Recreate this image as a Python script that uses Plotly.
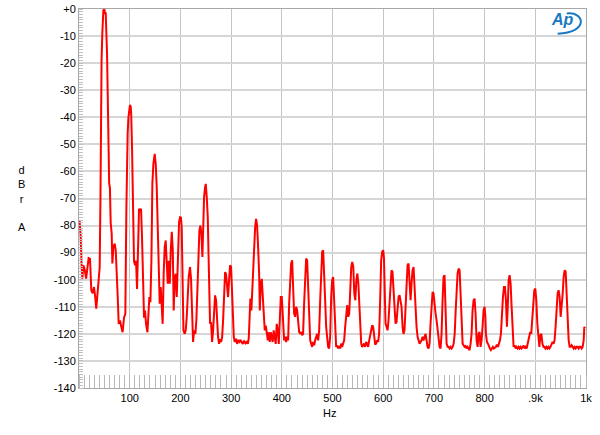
import plotly.graph_objects as go

freq_hz = [
    1, 3.3, 5, 6.6, 8.5, 11, 14, 16.4, 19, 21.7, 24.3, 27, 29.6, 32, 34, 36, 38, 40.8, 42.3, 43,
    44.5, 46, 48, 50, 51.3, 52.6, 54, 55.3, 56.6, 57.9, 59.5, 61, 62.5, 64.5, 65.8, 67.8, 70.4, 72.4, 74.3, 76.3,
    78.3, 81, 83.5, 86, 88.8, 91.4, 93.4, 94.8, 96, 97.5, 99, 100.5, 102, 103, 104.6, 105.5, 106.6, 108.5, 110.5, 112.5,
    114.5, 116.4, 118.4, 120.4, 122.4, 124.3, 126.3, 128.3, 130.2, 132.2, 135, 137, 138.8, 140.8, 142.8, 144.7, 146.7, 149.3, 151.3, 153.3,
    155.3, 157.2, 159.2, 161.2, 163, 165, 167, 169, 171, 173, 175, 177, 179, 181, 183, 185, 186.8, 188.8, 190.8, 192.8,
    195.4, 197.4, 199.3, 201, 202.6, 204, 206, 208.6, 210.5, 212.5, 214.5, 216.4, 219, 221, 223, 225, 227, 229.6, 231.5, 233.5,
    235.5, 237.5, 239.5, 241.4, 243.4, 245.4, 246.7, 248.7, 250, 252, 254, 255.3, 256.6, 258.5, 260.5, 262.5, 264.5, 266.4, 268.4, 270.4,
    272.4, 274.3, 276.3, 278.3, 280.3, 282.3, 284.2, 286.2, 288.2, 290, 292, 294, 296, 298, 300, 301.3, 303.3, 305.3, 307.2, 309.5,
    311.8, 314, 316.4, 318.5, 320.5, 323, 325.5, 328.3, 331, 333, 334.8, 336, 338, 340, 341.4, 343.4, 345.4, 347.4, 349.3, 351.3,
    353.3, 355.3, 356.6, 358.6, 360.5, 362.5, 364.5, 366.4, 368.4, 370.4, 372.4, 374.3, 376.3, 378.3, 380.2, 382, 384, 386, 388, 390,
    392, 394, 396, 398, 400, 402.3, 404.6, 406.6, 408.6, 410.5, 412.5, 414.5, 416.4, 418.4, 420.4, 422.4, 424.3, 426.3, 428.3, 430.3,
    432.2, 434.2, 436.2, 438.1, 440, 442, 444, 446, 448, 450, 452, 454, 456, 457.9, 459.9, 461.9, 463.8, 465.8, 467.8, 469.7,
    471.7, 473.7, 475.7, 477.6, 479.6, 481.6, 483.6, 485.5, 487.5, 489.5, 491.4, 493.4, 495.4, 497.4, 499.3, 501.3, 503.3, 505.3, 507.2, 509.2,
    511.2, 513.1, 515, 517, 519, 521, 523, 525, 527, 529, 531, 533, 535, 537, 539, 541, 543, 545, 547, 549,
    551, 553, 554.6, 556.6, 558.5, 560.5, 562.5, 564.4, 566.4, 568.4, 570.4, 572.4, 574.3, 576.3, 578.3, 580.2, 582.2, 584.2, 586.2, 588.1,
    590, 592, 594, 596, 598, 600, 601.5, 602.6, 604.6, 606.6, 608.6, 610.5, 612.5, 614.5, 616.4, 618.4, 620.4, 622.4, 624.3, 626.3,
    628.3, 630.3, 632.2, 634.2, 636.2, 638.2, 640, 642, 644, 646, 648, 650, 652, 654, 655.9, 657.9, 659.9, 661.8, 663.8, 665.8,
    667.8, 669.7, 671.7, 673.7, 675.7, 677.6, 679.6, 681.6, 683.6, 685.5, 687.5, 689.5, 691.4, 693.4, 695.4, 697.4, 699.3, 701.3, 703.3, 705.3,
    707.2, 709.2, 711.2, 713.2, 715.1, 717.1, 719, 721, 723, 725, 727, 729, 731, 733, 735, 737, 739, 741, 743, 744.7,
    746.7, 748.7, 750.7, 752.6, 754.6, 756.6, 758.5, 760.5, 762.5, 764.4, 766.4, 768.4, 770.4, 772.4, 774.3, 776.3, 778.3, 780.2, 782.2, 784.2,
    786.2, 788.2, 790.1, 792, 794, 796, 798, 800, 801.5, 802.6, 804.6, 806.6, 808.6, 810.5, 812.5, 814.5, 816.4, 818.4, 820.4, 822.4,
    824.3, 826.3, 828.3, 830.3, 832.2, 834.2, 836.2, 838.2, 840.1, 842.1, 844, 845.4, 847.4, 849.3, 851.3, 853.3, 855.3, 857.2, 859.2, 861.2,
    863.1, 865.1, 867.1, 869, 871, 873, 875, 877, 879, 881, 882.9, 886, 888, 890, 892, 894, 896, 898, 900, 902,
    904, 906, 908, 910, 912, 914, 916, 918, 920, 922, 924, 926, 928, 930, 932, 934, 936, 938, 940, 942,
    944, 946, 948, 950, 952, 954, 955.9, 957.9, 959.9, 961.8, 963.8, 965.8, 967.8, 969.7, 971.7, 973.7, 975.7, 977.6, 979.6, 981.6,
    983.6, 985.5, 987.5, 989.5, 991.4, 993.4, 995.4, 996.7, 998,
]

level_dbr = [
    -78, -84, -94, -99.6, -94.7, -96, -99.6, -94.7, -92, -92.3, -104, -105, -102.7, -106.4, -110.7, -106.4, -101, -95.3, -70, -36,
    -19, -9, -0.5, 0, -1.8, -1.2, -6.5, -16.4, -31.2, -53.4, -64.5, -66, -79, -83, -94, -88, -86.7, -89, -95, -106,
    -116.3, -115, -117.5, -119.4, -114, -112.6, -74.4, -55, -45.8, -40, -37, -35.5, -36, -39, -51, -60, -67, -93, -94.7, -93,
    -103.4, -84.3, -73.8, -74.4, -73.8, -84.3, -105.2, -114, -111.4, -116.3, -119.4, -111.4, -106.4, -108.3, -93, -64.6, -57.2, -53.5, -57.2, -65.8,
    -83, -99, -108.9, -102.7, -108.9, -116.3, -97.8, -88, -85.5, -93, -101.5, -93, -101.5, -89, -82.3, -89, -111.4, -99, -97.8, -106.4,
    -89, -78.7, -76.9, -77, -80.6, -101.5, -118.7, -120, -118.7, -113.8, -106.4, -99, -95.3, -99.7, -111.4, -123, -118.7, -120, -115, -104,
    -92.9, -81.8, -80, -83, -91.6, -78, -69.5, -65.8, -64.6, -69.5, -76.9, -89.2, -105.2, -116.3, -115.7, -123, -118.7, -112.6, -105.8, -107.6,
    -116.3, -121.2, -123.7, -122, -123, -121.2, -115, -104, -97.2, -97.8, -104, -106.4, -100.2, -94.7, -95.3, -101.5, -112.6, -121.2, -123, -121.8,
    -123.7, -122.5, -123, -122.2, -123, -123.7, -122.5, -123.5, -123, -123.7, -121.8, -116.3, -107, -111.4, -105, -95.3, -84.3, -80.6, -77.5, -80,
    -88, -97.8, -111.4, -101.5, -99.7, -106.4, -116.3, -118.7, -117, -121.2, -122.4, -119.4, -123, -119.4, -121.2, -123, -118.7, -121.2, -123.7, -116.3,
    -118.7, -123.7, -113.8, -106.4, -106.4, -113, -122.4, -121, -123, -121, -122.4, -108.8, -99, -94, -92.8, -101.4, -112.5, -113.7, -110, -111.3,
    -117.4, -119.3, -120, -119.3, -120.5, -120, -108.8, -97.7, -92.2, -92.8, -102.7, -117.4, -122.4, -123.6, -124.8, -123, -124.2, -122.4, -121, -120,
    -122.4, -118.7, -107.6, -95.3, -89.7, -89.1, -96.5, -107.6, -117.4, -122.4, -124.8, -125.4, -121, -106.4, -100.2, -99, -107.6, -117.4, -124.8, -124.2,
    -125.4, -124.5, -125.4, -123.6, -124.8, -123.6, -122.4, -117.4, -111.3, -109.4, -113.7, -112.5, -103.9, -95.3, -93.4, -95.3, -105.1, -107.6, -100.2, -97.7,
    -101.4, -111.3, -120, -123.6, -124.8, -124, -123.6, -124.8, -123, -123.6, -124.8, -122.4, -120, -118, -116.8, -117.4, -121, -124, -123.6, -122.4,
    -123, -120, -107.6, -92.8, -89.7, -89.1, -92, -102.7, -116.2, -117.4, -118.7, -115, -107.6, -99, -96.5, -97.2, -105.1, -112.5, -116.2, -115.6,
    -111.3, -106.4, -105.7, -107.6, -110, -117.4, -120, -118.7, -110, -99, -94.7, -94, -103.9, -107.6, -101.4, -96.5, -95.3, -102.7, -112.5, -117.4,
    -121.1, -123, -123.6, -123, -122.4, -121.1, -122.4, -121.1, -120, -122.4, -124.8, -125.4, -123.6, -116.2, -107.6, -104.5, -105.1, -110, -112.5, -115,
    -118.7, -122.4, -124.8, -125.4, -120, -107.6, -99, -98.3, -107.6, -123.6, -124.8, -124.8, -125.4, -124.8, -125.4, -124.8, -123.6, -120, -111.3, -102.7,
    -97.7, -95.9, -96.5, -105.1, -117.4, -123.6, -124.2, -124.8, -124.5, -125.4, -124.8, -125.4, -126, -123.6, -120, -111.3, -107.6, -107, -112.5, -122.4,
    -124.8, -120, -119.3, -124.8, -122.4, -117.4, -111.3, -110, -113.5, -120, -123, -123.6, -124.8, -125.4, -126, -125.4, -124.8, -125.4, -125, -124.8,
    -124, -124.8, -123.6, -122.4, -120, -111.3, -106.4, -102.7, -102.7, -107.6, -117.4, -111.3, -100.2, -98.3, -101.4, -110, -121, -124.8, -124.2, -125.4,
    -124.8, -125.4, -124.8, -125.4, -124.8, -125.4, -124.8, -124.3, -125.4, -124.8, -125.4, -122.4, -120, -119.3, -120, -115, -108.8, -103.9, -103.3, -107.6,
    -116.2, -122.4, -124.8, -120.5, -120, -123.6, -124.8, -124.8, -125.4, -124.8, -125.4, -124.8, -125.4, -124.8, -123.6, -123, -123.6, -122.4, -117.4, -111.3,
    -105.1, -103.9, -106.4, -113.7, -110, -105.1, -99, -96.5, -97, -107.6, -117.4, -122.4, -124.8, -124.8, -124.2, -124.8, -125.4, -124.8, -125.4, -124.8,
    -124.8, -125.4, -124.8, -124.8, -125.4, -124.8, -122.4, -117.4, -118,
]

x_tick_vals = [100, 200, 300, 400, 500, 600, 700, 800, 900, 1000]
x_tick_text = ["100", "200", "300", "400", "500", "600", "700", "800", ".9k", "1k"]
y_tick_vals = [0, -10, -20, -30, -40, -50, -60, -70, -80, -90, -100, -110, -120, -130, -140]
y_tick_text = ["+0", "-10", "-20", "-30", "-40", "-50", "-60", "-70", "-80", "-90", "-100", "-110", "-120", "-130", "-140"]

FONT = "Liberation Sans, Arial, sans-serif"
LOGO_BLUE = "#1b78c0"

fig = go.Figure()
fig.add_trace(go.Scatter(
    x=freq_hz, y=level_dbr, mode="lines",
    line=dict(color="#ff0000", width=2),
    hoverinfo="skip", showlegend=False,
))

fig.update_layout(
    template="none",
    width=600, height=435,
    margin=dict(l=79, r=14, t=9, b=47, autoexpand=False),
    paper_bgcolor="white", plot_bgcolor="white",
    font=dict(family=FONT, size=11, color="black"),
    showlegend=False,
)

fig.update_xaxes(
    range=[0, 1000], tickvals=x_tick_vals, ticktext=x_tick_text,
    automargin=False,
    showgrid=True, gridcolor="#c4c4c4", gridwidth=1.2,
    zeroline=False, showline=True, linecolor="#a8a8a8", linewidth=1, mirror=True,
    ticks="", tickfont=dict(size=11),
    minor=dict(ticks="inside", ticklen=13, tickcolor="#b8b8b8", tickwidth=1,
               dtick=10, tick0=0, showgrid=False),
)
fig.update_yaxes(
    range=[-140, 0], tickvals=y_tick_vals, ticktext=y_tick_text,
    automargin=False,
    showgrid=True, gridcolor="#d6d6d6", gridwidth=2,
    zeroline=False, showline=True, linecolor="#a8a8a8", linewidth=1, mirror=True,
    ticks="", tickfont=dict(size=11),
    minor=dict(ticks="inside", ticklen=4, tickcolor="#c0c0c0", tickwidth=1,
               dtick=1, tick0=0, showgrid=False),
)

fig.add_annotation(
    xref="paper", yref="paper", x=-0.112, y=0.50,
    text="d<br>B<br>r<br><br>A", showarrow=False,
    font=dict(family=FONT, size=11, color="black"),
    xanchor="center", yanchor="middle", align="center",
)
fig.add_annotation(
    xref="paper", yref="paper", x=0.495, y=-0.066,
    text="Hz", showarrow=False,
    font=dict(family=FONT, size=11, color="black"),
    xanchor="center", yanchor="middle",
)
# Audio Precision logo: italic "Ap" with a swoosh arc
fig.add_annotation(
    xref="paper", yref="paper", x=0.953, y=0.971,
    text="<b><i>Ap</i></b>", showarrow=False,
    font=dict(family=FONT, size=16, color=LOGO_BLUE),
    xanchor="center", yanchor="middle",
)
fig.add_shape(
    type="path", xref="paper", yref="paper",
    path="M 0.962 0.988 C 0.998 0.994, 1.006 0.937, 0.944 0.935",
    line=dict(color=LOGO_BLUE, width=2),
)

fig.write_html(
    "out.html",
    config={"displayModeBar": False},
    post_script="document.body.style.margin='0px';",
)
